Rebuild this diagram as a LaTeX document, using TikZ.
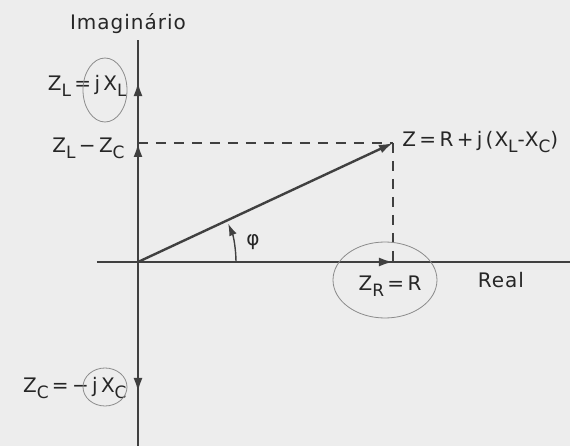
\documentclass[tikz,border=0pt]{standalone}
\usepackage{fontspec}
\setmainfont{DejaVu Sans}[LetterSpace=5]
\usepackage{tikz}
\usetikzlibrary{arrows.meta}

\newcommand{\lo}[1]{\raisebox{-0.55ex}{\fontsize{8.5}{9}\selectfont #1}}

\tikzset{
  lbl/.style={font=\fontsize{10}{12}\selectfont, text=black!85, inner sep=0pt},
  vec/.style={line width=1.2pt, draw=black!75, -{Latex[length=7pt,width=4.5pt]}},
  axis/.style={line width=1.1pt, draw=black!75},
  proj/.style={line width=0.8pt, draw=black!75, dash pattern=on 5pt off 4pt},
  pencil/.style={line width=0.4pt, draw=black!45}
}

\begin{document}
\begin{tikzpicture}[x=0.5pt,y=0.5pt]
\fill[black!7] (0,0) rectangle (570,446);
\useasboundingbox (0,0) rectangle (570,446);

\coordinate (O) at (138,184);
\coordinate (top) at (138,406);
\coordinate (bot) at (138,0);
\coordinate (left) at (97,184);
\coordinate (right) at (570,184);
\coordinate (Z) at (393,303);
\coordinate (ZR) at (393,184);
\coordinate (ZL) at (138,364);
\coordinate (ZLC) at (138,303);
\coordinate (ZC) at (138,54);

% axes
\draw[axis] (top) -- (bot);
\draw[axis] (left) -- (right);

% projections
\draw[proj] (ZLC) -- (Z);
\draw[proj] (Z) -- (ZR);

% phasors
\draw[vec] (O) -- (Z);
\draw[vec] (O) -- (ZR);
\draw[vec] (O) -- (ZL);
\draw[vec] (O) -- (ZLC);
\draw[vec] (O) -- (ZC);

% angle
\draw[line width=0.7pt, draw=black!75, -{Latex[length=6pt,width=4pt]}] (236,184) arc[start angle=0, end angle=23, radius=98];

\node[lbl] (imag) at (128,422) {Imaginário};
\node[lbl] (real) at (501,166) {Real};
\node[lbl] (phi) at (253,204) {φ};
\node[lbl, anchor=east] (lblZL) at (127,360) {Z\lo{L}\,=\,j\,X\lo{L}};
\node[lbl, anchor=east] (lblZLC) at (125,298) {Z\lo{L}\,−\,Z\lo{C}};
\node[lbl, anchor=west] (lblZ) at (402,304) {Z\,=\,R\,+\,j\,(X\lo{L}-X\lo{C})};
\node[lbl] (lblZR) at (390,160) {Z\lo{R}\,=\,R};
\node[lbl, anchor=east] (lblZC) at (127,58) {Z\lo{C}\,=\,−\,j\,X\lo{C}};

% pencil marks
\draw[pencil] (105,356) ellipse[x radius=22, y radius=32];
\draw[pencil] (385,166) ellipse[x radius=52, y radius=38];
\draw[pencil] (105,59) ellipse[x radius=22, y radius=19];
\end{tikzpicture}
\end{document}
